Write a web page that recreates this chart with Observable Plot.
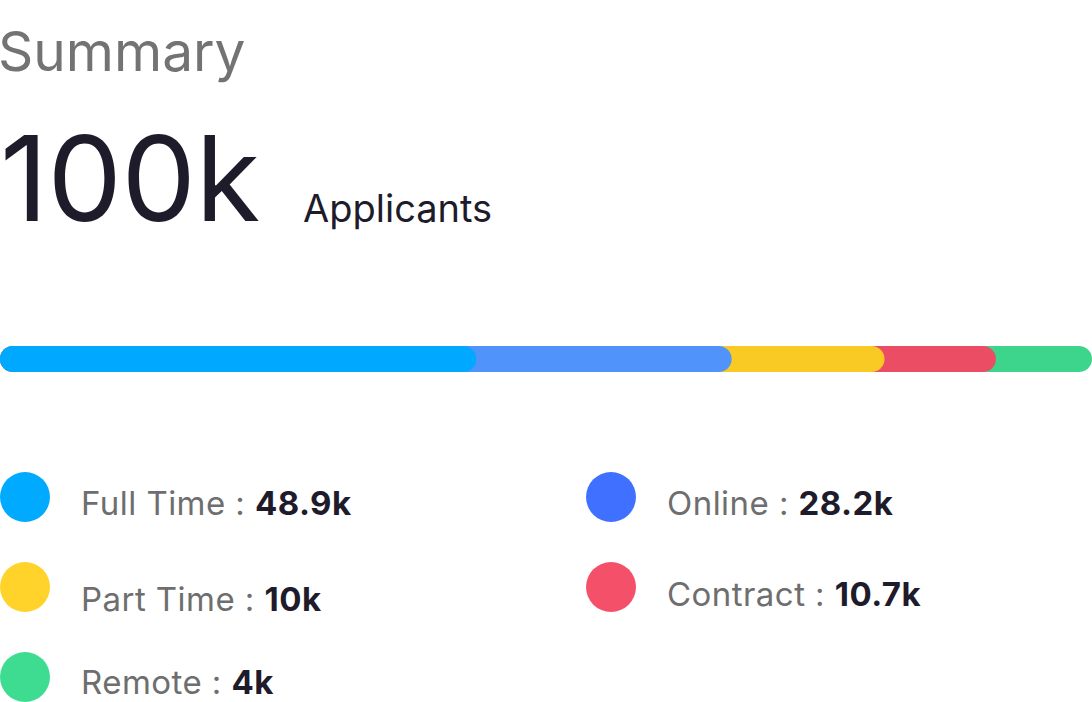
<!DOCTYPE html>
<html>
<head>
<meta charset="utf-8">
<script src="https://cdn.jsdelivr.net/npm/d3@7"></script>
<script src="https://cdn.jsdelivr.net/npm/@observablehq/plot@0.6"></script>
<style>
  html, body { margin: 0; padding: 0; background: #fff; }
  body { width: 1092px; height: 702px; position: relative; overflow: hidden; font-family: Inter, "Open Sans", sans-serif; }
  .abs { position: absolute; line-height: 1; white-space: nowrap; }
  #title { left: -2px; top: 24px; font-size: 55px; color: #737373; }
  #total { left: 0px; top: 119px; font-size: 118px; color: #1e1b2b; letter-spacing: -0.5px; }
  #unit { left: 303px; top: 189px; font-size: 38px; color: #1e1b2b; }
  #bar { left: 0; top: 346px; }
  #legend { left: 0; top: 472px; display: grid; grid-template-columns: 586px 500px; grid-auto-rows: 90px; }
  .item { position: relative; height: 90px; }
  .dot { position: absolute; left: 0; top: 0; width: 50px; height: 50px; border-radius: 50%; }
  .lab { position: absolute; left: 81px; top: 20px; font-size: 33px; line-height: 0.7; color: #6e6e6e; white-space: nowrap; letter-spacing: 0.45px; }
  .lab b { color: #1e1b2b; font-weight: 700; }
  .item:nth-child(3) .lab { top: 26px; }
  .item:nth-child(4) .lab { top: 21px; }
  .item:nth-child(5) .lab { top: 19px; }
</style>
</head>
<body>
<div id="title" class="abs">Summary</div>
<div id="total" class="abs">100k</div>
<div id="unit" class="abs">Applicants</div>
<div id="bar" class="abs"></div>
<div id="legend" class="abs"></div>
<script>
// Categories in bar order
const categories = ["Full Time", "Online", "Part Time", "Contract", "Remote"];
// Legend values (thousands)
const legendValues = [48.9, 28.2, 10, 10.7, 4];
// Bar segment shares (percent of bar length)
const barShares = [43.6, 23.4, 14.0, 10.2, 8.8];
// Colours
const barColors = ["#00a8ff", "#4f93fb", "#f9ca24", "#eb4d65", "#3dd58b"];
const dotColors = ["#00aaff", "#4070ff", "#ffd32a", "#f5506a", "#3ddc91"];
// Legend layout order (row-major, two columns)
const legendOrder = ["Full Time", "Online", "Part Time", "Contract", "Remote"];

const ends = Array.from(d3.cumsum(barShares));
const barData = categories.map((c, i) => ({category: c, start: 0, end: ends[i]})).reverse();

const chart = Plot.plot({
  width: 1092,
  height: 26,
  margin: 0,
  x: {domain: [0, 100], axis: null},
  color: {domain: categories, range: barColors},
  marks: [
    Plot.barX(barData, {x1: "start", x2: "end", fill: "category", rx: 13})
  ]
});
document.getElementById("bar").appendChild(chart);

const legend = document.getElementById("legend");
legendOrder.forEach(name => {
  const i = categories.indexOf(name);
  const item = document.createElement("div");
  item.className = "item";
  const dot = document.createElement("div");
  dot.className = "dot";
  dot.style.background = dotColors[i];
  const lab = document.createElement("div");
  lab.className = "lab";
  lab.innerHTML = `${name} : <b>${legendValues[i]}k</b>`;
  item.appendChild(dot);
  item.appendChild(lab);
  legend.appendChild(item);
});
</script>
</body>
</html>
